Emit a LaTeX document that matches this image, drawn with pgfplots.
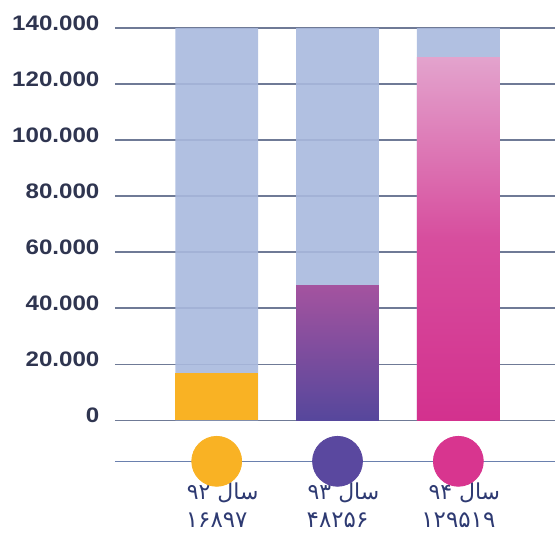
\documentclass[border=0pt]{standalone}
\usepackage{pgfplots}
\pgfplotsset{compat=1.18}
\usepackage{fontspec}
\setmainfont{Liberation Sans}
\newfontfamily\arabicfont[Script=Arabic]{DejaVu Sans}
\TeXXeTstate=1
\definecolor{bgbar}{HTML}{A9B9DE}
\definecolor{orangeC}{HTML}{F9B224}
\definecolor{purpBot}{HTML}{56479C}
\definecolor{purpTop}{HTML}{A4539F}
\definecolor{magBot}{HTML}{D3318E}
\definecolor{magTop}{HTML}{E3A3CD}
\definecolor{purpC}{HTML}{5A489F}
\definecolor{magC}{HTML}{D8358F}
\definecolor{gridc}{HTML}{6F7A96}
\definecolor{linec}{HTML}{6A80AE}
\definecolor{labc}{HTML}{2F3550}
\definecolor{txtc}{HTML}{2E3A72}
\begin{document}
\begin{tikzpicture}
\begin{axis}[
  scale only axis,
  width=220.5pt, height=269.5pt,
  xmin=-0.843, xmax=2.8017,
  ymin=-42036, ymax=150000,
  clip=false,
  scaled y ticks=false,
  axis line style={draw=none},
  tick style={draw=none},
  xtick=\empty,
  ytick={0,20000,40000,60000,80000,100000,120000,140000},
  yticklabels={0,20.000,40.000,60.000,80.000,100.000,120.000,140.000},
  yticklabel style={font=\fontsize{10.5}{12}\selectfont\bfseries, text=labc, inner sep=0pt, xshift=-7.5pt, yshift=2.5pt, xscale=1.15, anchor=east},
  ymajorgrids,
  grid style={line width=0.8pt, color=gridc},
]
% background bars
\addplot[ybar, bar width=41.5pt, bar shift=0pt, draw=none, fill=bgbar, fill opacity=0.9]
  coordinates {(0,140000) (1,140000) (2,140000)};
% value bars
\addplot[ybar, bar width=41.5pt, bar shift=0pt, draw=none, fill=orangeC]
  coordinates {(0,16897)};
\addplot[ybar, bar width=41.5pt, bar shift=0pt, draw=none, top color=purpTop, bottom color=purpBot]
  coordinates {(1,48256)};
\addplot[ybar, bar width=41.5pt, bar shift=0pt, draw=none, top color=magTop, bottom color=magBot, middle color=magBot!75!magTop]
  coordinates {(2,129519)};
% bottom timeline
\addplot[linec, line width=0.8pt] coordinates {(-0.843,-14600) (2.8017,-14600)};
\addplot[orangeC, only marks, mark=*, mark size=12.5pt, mark options={draw=orangeC, fill=orangeC}] coordinates {(0,-14600)};
\addplot[purpC, only marks, mark=*, mark size=12.5pt, mark options={draw=purpC, fill=purpC}] coordinates {(1,-14600)};
\addplot[magC, only marks, mark=*, mark size=12.5pt, mark options={draw=magC, fill=magC}] coordinates {(2,-14600)};
% labels
\node[text=txtc, font=\arabicfont\fontsize{11}{12}\selectfont, xshift=3pt] at (axis cs:0,-25800) {\beginR سال \beginL۹۲\endL\endR};
\node[text=txtc, font=\arabicfont\fontsize{11}{12}\selectfont, xshift=3pt] at (axis cs:1,-25800) {\beginR سال \beginL۹۳\endL\endR};
\node[text=txtc, font=\arabicfont\fontsize{11}{12}\selectfont, xshift=3pt] at (axis cs:2,-25800) {\beginR سال \beginL۹۴\endL\endR};
\node[text=txtc, font=\arabicfont\fontsize{11.5}{12}\selectfont] at (axis cs:0,-35600) {\beginL۱۶۸۹۷\endL};
\node[text=txtc, font=\arabicfont\fontsize{11.5}{12}\selectfont] at (axis cs:1,-35600) {\beginL۴۸۲۵۶\endL};
\node[text=txtc, font=\arabicfont\fontsize{11.5}{12}\selectfont] at (axis cs:2,-35600) {\beginL۱۲۹۵۱۹\endL};
\path (rel axis cs:-0.2608,0) rectangle (rel axis cs:1,1);
\end{axis}
\end{tikzpicture}
\end{document}
